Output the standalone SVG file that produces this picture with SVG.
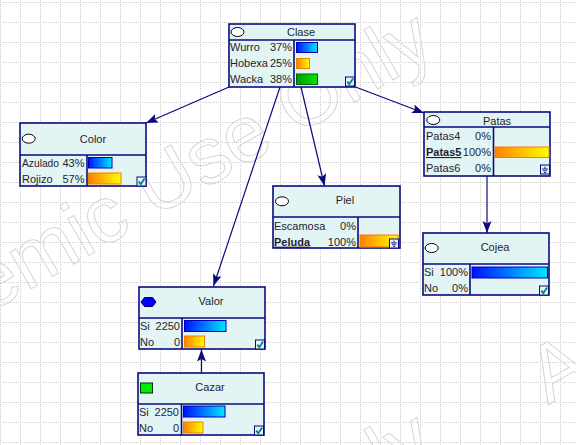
<svg xmlns="http://www.w3.org/2000/svg" xmlns:xlink="http://www.w3.org/1999/xlink" width="576" height="445" viewBox="0 0 576 445">
<style>
  .box{fill:#e3f4f4;stroke:#0a0a80;stroke-width:1.6}
  .div{stroke:#0a0a80;stroke-width:1.6;fill:none}
  text{font-family:"Liberation Sans",Arial,sans-serif;font-size:11px;fill:#1e1e2e}
  .title{text-anchor:middle}
  .r{text-anchor:end}
  .b{font-weight:bold;text-decoration:underline}
  .oval{fill:#ffffff;stroke:#000000;stroke-width:1}
  .edge{stroke:#0a0a80;stroke-width:1.2;fill:none;marker-end:url(#ah)}
  .wm{font-size:80px;fill:none;stroke:#d6d6d6;stroke-width:1}
  .blue{fill:url(#gBlue);stroke:#0000b4;stroke-width:1}
  .orange{fill:url(#gOrange);stroke:#f08000;stroke-width:1}
  .green{fill:url(#gGreen);stroke:#006400;stroke-width:1}
</style>
<defs>
  <pattern id="grid" patternUnits="userSpaceOnUse" x="0" y="2" width="20" height="20">
    <path d="M0.5,0 V20 M0,0.5 H20" stroke="#cdcdcd" stroke-width="1" stroke-dasharray="1 1"/>
  </pattern>
  <linearGradient id="gBlue" x1="0" y1="0" x2="1" y2="0">
    <stop offset="0" stop-color="#0010ff"/><stop offset="1" stop-color="#00e8ff"/>
  </linearGradient>
  <linearGradient id="gOrange" x1="0" y1="0" x2="1" y2="0">
    <stop offset="0" stop-color="#ff8000"/><stop offset="1" stop-color="#ffff00"/>
  </linearGradient>
  <linearGradient id="gGreen" x1="0" y1="0" x2="1" y2="0">
    <stop offset="0" stop-color="#009a00"/><stop offset="1" stop-color="#00ea00"/>
  </linearGradient>
  <marker id="ah" markerUnits="userSpaceOnUse" markerWidth="13" markerHeight="9" refX="12" refY="4.5" orient="auto">
    <path d="M0,0 L12,4.5 L0,9 L2.5,4.5 z" fill="#0a0a80"/>
  </marker>
  <g id="chk">
    <rect x="0" y="0" width="9" height="9" fill="#e3f4f4" stroke="#0a0a80" stroke-width="1"/>
    <path d="M1.8,4.6 L3.8,7.2 L7.6,1.6" fill="none" stroke="#008080" stroke-width="1.8"/>
  </g>
  <g id="gnd">
    <rect x="0" y="0" width="9" height="9" fill="#e3f4f4" stroke="#0a0a80" stroke-width="1"/>
    <path d="M4.5,1.5 V4 M1.5,4 H7.5 M2.5,5.8 H6.5 M3.5,7.6 H5.5" fill="none" stroke="#0a0a80" stroke-width="0.9"/>
  </g>
</defs>

<!-- canvas: dotted grid and outlined watermark -->
<rect x="0" y="0" width="576" height="445" fill="#ffffff"/>
<rect x="0" y="0" width="576" height="445" fill="url(#grid)"/>
<g id="watermark">
  <text class="wm" transform="translate(-170,405) rotate(-30)">Academic Use Only</text>
  <text class="wm" transform="translate(548,405) rotate(-30)">Academic Use Only</text>
  <text class="wm" transform="translate(-170,805) rotate(-30)">Academic Use Only</text>
</g>

<!-- connectors -->
<g id="edges">
  <path class="edge" d="M229,87 L146,123"/>
  <path class="edge" d="M280,87 L213.5,286"/>
  <path class="edge" d="M301,87 L324.5,186"/>
  <path class="edge" d="M355.5,87 L424,113"/>
  <path class="edge" d="M487,176 L487,233"/>
  <path class="edge" d="M201.5,373 L201.5,349.5"/>
</g>

<g id="clase">
  <rect class="box" x="229" y="24" width="126" height="63"/>
  <path class="div" d="M229,40 H355 M294,40 V87"/>
  <ellipse class="oval" cx="237.5" cy="32" rx="6.5" ry="4.5"/>
  <text class="title" x="301" y="36">Clase</text>
  <text x="230" y="50.7">Wurro</text><text class="r" x="292" y="50.7">37%</text>
  <text x="230" y="66.7">Hobexa</text><text class="r" x="292" y="66.7">25%</text>
  <text x="230" y="83.3">Wacka</text><text class="r" x="292" y="83.3">38%</text>
  <rect class="blue" x="296.5" y="42.5" width="21" height="10"/>
  <rect class="orange" x="296.5" y="58.5" width="13" height="10"/>
  <rect class="green" x="296.5" y="74" width="21" height="10.5"/>
  <use xlink:href="#chk" x="345.5" y="77"/>
</g>

<g id="color">
  <rect class="box" x="20" y="123" width="126" height="63"/>
  <path class="div" d="M20,155 H146 M87,155 V186"/>
  <ellipse class="oval" cx="28.7" cy="138.7" rx="6.5" ry="4.5"/>
  <text class="title" x="93" y="143">Color</text>
  <text x="22" y="167.3" textLength="37" lengthAdjust="spacingAndGlyphs">Azulado</text><text class="r" x="84.5" y="167.3">43%</text>
  <text x="22" y="183.3">Rojizo</text><text class="r" x="84.5" y="183.3">57%</text>
  <rect class="blue" x="88.5" y="157.5" width="23.5" height="10.5"/>
  <rect class="orange" x="88.5" y="173" width="32.5" height="11"/>
  <use xlink:href="#chk" x="137" y="177"/>
</g>

<g id="patas">
  <rect class="box" x="424" y="112" width="126" height="64"/>
  <path class="div" d="M424,127 H550 M493.5,127 V176"/>
  <ellipse class="oval" cx="433.3" cy="120" rx="6.5" ry="4.5"/>
  <text class="title" x="497" y="124.5">Patas</text>
  <text x="426" y="140">Patas4</text><text class="r" x="491" y="140">0%</text>
  <text class="b" x="426" y="156">Patas5</text><text class="r" x="491" y="156">100%</text>
  <text x="426" y="172">Patas6</text><text class="r" x="491" y="172">0%</text>
  <rect class="orange" x="495" y="147" width="54" height="10.5"/>
  <use xlink:href="#gnd" x="540.5" y="165"/>
</g>

<g id="piel">
  <rect class="box" x="273" y="186" width="127" height="62"/>
  <path class="div" d="M273,217 H400 M358,217 V248"/>
  <ellipse class="oval" cx="282" cy="201.3" rx="6.5" ry="4.5"/>
  <text class="title" x="345" y="204.3">Piel</text>
  <text x="274" y="229.7">Escamosa</text><text class="r" x="356" y="229.7">0%</text>
  <text class="b" x="274" y="245.7">Peluda</text><text class="r" x="356" y="245.7">100%</text>
  <rect class="orange" x="360" y="235" width="38" height="12"/>
  <use xlink:href="#gnd" x="389.5" y="239"/>
</g>

<g id="cojea">
  <rect class="box" x="423" y="233" width="126" height="62"/>
  <path class="div" d="M423,264 H549 M470,264 V295"/>
  <ellipse class="oval" cx="431.7" cy="248" rx="6.5" ry="4.5"/>
  <text class="title" x="495" y="251.3">Cojea</text>
  <text x="424" y="276.3">Si</text><text class="r" x="468" y="276.3">100%</text>
  <text x="424" y="292.3">No</text><text class="r" x="468" y="292.3">0%</text>
  <rect class="blue" x="472" y="267" width="75.5" height="11"/>
  <use xlink:href="#chk" x="539.5" y="286"/>
</g>

<g id="valor">
  <rect class="box" x="139" y="287" width="126" height="62"/>
  <path class="div" d="M139,318 H265 M182,318 V349"/>
  <polygon points="141,302 144.5,297.5 152.5,297.5 156,302 152.5,306.5 144.5,306.5" fill="#0000ff" stroke="#000060" stroke-width="1"/>
  <text class="title" x="211" y="305.3">Valor</text>
  <text x="140" y="330.3">Si</text><text class="r" x="180" y="330.3">2250</text>
  <text x="140" y="346.3">No</text><text class="r" x="180" y="346.3">0</text>
  <rect class="blue" x="184.5" y="320.5" width="41.5" height="11"/>
  <rect class="orange" x="184.5" y="336" width="20" height="11"/>
  <use xlink:href="#chk" x="255.5" y="340"/>
</g>

<g id="cazar">
  <rect class="box" x="138" y="373" width="126" height="62"/>
  <path class="div" d="M138,404 H264 M181.5,404 V435"/>
  <rect x="140.5" y="383" width="12" height="10" fill="#00ee00" stroke="#003000" stroke-width="1"/>
  <text class="title" x="210" y="391.3">Cazar</text>
  <text x="139" y="416.3">Si</text><text class="r" x="179" y="416.3">2250</text>
  <text x="139" y="432.3">No</text><text class="r" x="179" y="432.3">0</text>
  <rect class="blue" x="183.5" y="406" width="41.5" height="11"/>
  <rect class="orange" x="183.5" y="422" width="19.5" height="11"/>
  <use xlink:href="#chk" x="254.5" y="426"/>
</g>
</svg>
